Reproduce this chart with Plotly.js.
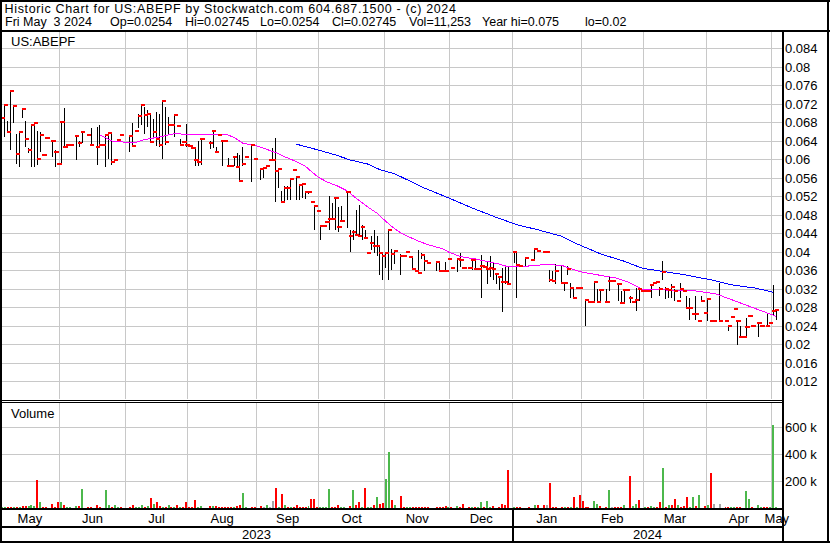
<!DOCTYPE html>
<html>
<head>
<meta charset="utf-8">
<script src="https://cdn.plot.ly/plotly-3.0.1.min.js"></script>
<style>
html,body{margin:0;padding:0;background:#fff;}
#chart{width:830px;height:543px;}
#chart .scatterlayer path.js-line{shape-rendering:crispEdges;}
#chart .scatterlayer path.point{shape-rendering:crispEdges;}
#chart .barlayer path{shape-rendering:crispEdges;}
#chart .shapelayer path{shape-rendering:crispEdges;}
#chart .annotation[data-index="0"] text{letter-spacing:0.65px;}
</style>
</head>
<body>
<div id="chart"></div>
<script>
// ---------- categories ----------
const firstDay = '2023-05-04';
const lastDay = '2024-05-03';
const monthNames = ['Jan','Feb','Mar','Apr','May','Jun','Jul','Aug','Sep','Oct','Nov','Dec'];

// ---------- price data (trading-day index, high, low, close) ----------
const priceDay = [
0,1,2,3,4,5,6,7,8,9,
10,11,12,13,14,15,17,18,19,20,
21,22,23,25,26,27,29,30,32,33,
34,35,36,37,38,39,40,43,44,45,
46,47,48,49,50,51,52,53,54,55,
56,57,58,59,60,61,62,63,64,65,
66,67,70,71,72,73,74,75,76,77,
78,79,80,81,82,84,85,87,88,89,
90,91,92,93,94,95,96,97,98,99,
100,101,102,103,104,105,106,107,108,109,
110,111,112,113,114,116,117,118,119,120,
121,122,123,124,125,126,127,128,129,130,
131,132,134,135,136,137,138,139,140,141,
142,143,146,147,148,149,150,151,153,154,
155,157,158,159,160,161,162,163,164,165,
166,167,168,169,170,172,173,174,176,178,
179,180,182,183,184,185,186,188,189,190,
191,192,193,194,196,197,198,199,200,201,
203,204,205,207,208,209,210,211,212,213,
214,215,216,217,218,219,220,221,222,223,
224,225,226,227,228,229,230,231,232,233,
234,235,236,237,238,239,241,243,244,245,
246,247,248,249,250,251,252,254,255,257,
258,259,260];
const priceHigh = [
.0750,.0719,.0683,.0750,.0716,.0656,.0660,.0710,.0684,.0624,
.0675,.0681,.0662,.0660,.0610,.0647,.0641,.0620,.0591,.0681,
.0712,.0632,.0632,.0650,.0640,.0660,.0653,.0668,.0670,.0674,
.0631,.0653,.0657,.0656,.0599,.0643,.0653,.0653,.0680,.0662,
.0699,.0720,.0714,.0707,.0699,.0688,.0703,.0699,.0727,.0714,
.0692,.0675,.0697,.0672,.0645,.0638,.0676,.0630,.0624,.0624,
.0639,.0645,.0639,.0662,.0628,.0653,.0643,.0641,.0603,.0585,
.0607,.0615,.0610,.0628,.0606,.0634,.0602,.0581,.0583,.0585,
.0599,.0624,.0646,.0580,.0532,.0542,.0542,.0560,.0578,.0563,
.0545,.0549,.0532,.0532,.0509,.0500,.0489,.0457,.0457,.0465,
.0521,.0507,.0518,.0498,.0500,.0531,.0448,.0448,.0491,.0502,
.0458,.0448,.0398,.0434,.0448,.0434,.0416,.0398,.0398,.0448,
.0407,.0405,.0396,.0392,.0399,.0390,.0387,.0360,.0405,.0397,
.0394,.0377,.0380,.0380,.0360,.0379,.0385,.0366,.0387,.0398,
.0366,.0365,.0387,.0387,.0364,.0394,.0368,.0380,.0391,.0377,
.0355,.0347,.0365,.0369,.0369,.0401,.0398,.0370,.0389,.0383,
.0408,.0403,.0400,.0400,.0361,.0358,.0373,.0372,.0334,.0369,
.0333,.0320,.0323,.0323,.0297,.0291,.0291,.0338,.0320,.0320,
.0320,.0345,.0338,.0333,.0315,.0320,.0318,.0304,.0292,.0322,
.0322,.0316,.0316,.0316,.0331,.0334,.0336,.0325,.0381,.0325,
.0322,.0331,.0320,.0295,.0333,.0316,.0304,.0300,.0267,.0304,
.0251,.0304,.0269,.0300,.0251,.0251,.0333,.0250,.0240,.0260,
.0276,.0250,.0240,.0216,.0257,.0262,.0239,.0247,.0241,.0268,
.0247,.0329,.02745];
const priceLow = [
.0589,.0649,.0660,.0620,.0678,.0591,.0584,.0690,.0627,.0613,
.0584,.0584,.0589,.0617,.0610,.0647,.0606,.0584,.0591,.0591,
.0626,.0632,.0632,.0599,.0627,.0635,.0653,.0631,.0588,.0631,
.0631,.0584,.0602,.0588,.0599,.0643,.0653,.0617,.0630,.0662,
.0668,.0675,.0656,.0670,.0638,.0645,.0630,.0627,.0601,.0631,
.0653,.0675,.0649,.0672,.0631,.0638,.0627,.0630,.0624,.0585,
.0585,.0588,.0622,.0625,.0617,.0653,.0585,.0641,.0585,.0585,
.0585,.0582,.0552,.0585,.0606,.0552,.0602,.0555,.0560,.0585,
.0599,.0599,.0509,.0538,.0509,.0509,.0513,.0513,.0578,.0513,
.0513,.0517,.0515,.0525,.0509,.0448,.0489,.0425,.0457,.0465,
.0448,.0472,.0448,.0444,.0468,.0452,.0401,.0426,.0434,.0435,
.0426,.0430,.0398,.0405,.0398,.0391,.0351,.0340,.0365,.0340,
.0361,.0373,.0350,.0392,.0399,.0390,.0361,.0360,.0354,.0384,
.0358,.0377,.0358,.0358,.0360,.0360,.0385,.0366,.0357,.0367,
.0366,.0365,.0361,.0361,.0364,.0301,.0368,.0330,.0347,.0340,
.0330,.0318,.0270,.0331,.0330,.0376,.0301,.0370,.0369,.0383,
.0383,.0403,.0400,.0400,.0335,.0336,.0330,.0330,.0315,.0351,
.0300,.0300,.0323,.0323,.0240,.0291,.0291,.0290,.0290,.0291,
.0290,.0315,.0338,.0293,.0288,.0290,.0318,.0290,.0292,.0272,
.0295,.0316,.0316,.0316,.0301,.0334,.0336,.0304,.0340,.0298,
.0300,.0301,.0293,.0295,.0301,.0316,.0279,.0254,.0267,.0254,
.0251,.0293,.0269,.0250,.0251,.0251,.0250,.0250,.0229,.0260,
.0276,.0200,.0215,.0216,.0214,.0262,.0239,.0216,.0238,.0238,
.0247,.0261,.0254];
const priceClose = [
.0689,.0718,.0660,.0749,.0716,.0612,.0660,.0709,.0645,.0621,
.0675,.0679,.0601,.0654,.0610,.0647,.0641,.0617,.0591,.0681,
.0626,.0632,.0632,.0650,.0636,.0660,.0653,.0631,.0628,.0631,
.0631,.0652,.0657,.0595,.0599,.0643,.0653,.0651,.0630,.0662,
.0694,.0718,.0697,.0698,.0638,.0660,.0645,.0632,.0727,.0638,
.0675,.0675,.0697,.0672,.0632,.0638,.0632,.0630,.0624,.0599,
.0595,.0645,.0636,.0661,.0617,.0653,.0641,.0641,.0587,.0585,
.0606,.0584,.0554,.0591,.0606,.0632,.0602,.0580,.0582,.0585,
.0599,.0599,.0576,.0580,.0509,.0539,.0538,.0558,.0578,.0562,
.0545,.0547,.0530,.0530,.0509,.0500,.0489,.0457,.0457,.0465,
.0472,.0472,.0517,.0455,.0468,.0530,.0435,.0444,.0437,.0435,
.0455,.0431,.0398,.0420,.0412,.0412,.0398,.0391,.0398,.0448,
.0396,.0403,.0392,.0392,.0399,.0390,.0363,.0360,.0354,.0394,
.0381,.0377,.0379,.0360,.0360,.0360,.0385,.0366,.0385,.0383,
.0366,.0365,.0383,.0364,.0364,.0370,.0368,.0364,.0366,.0364,
.0352,.0346,.0336,.0336,.0330,.0400,.0372,.0370,.0387,.0383,
.0407,.0403,.0400,.0400,.0340,.0338,.0358,.0334,.0334,.0364,
.0323,.0301,.0323,.0323,.0297,.0291,.0291,.0336,.0291,.0318,
.0291,.0338,.0338,.0331,.0289,.0318,.0318,.0300,.0292,.0297,
.0320,.0316,.0316,.0316,.0329,.0334,.0336,.0320,.0357,.0320,
.0318,.0325,.0315,.0295,.0320,.0316,.0280,.0280,.0267,.0267,
.0251,.0295,.0269,.0299,.0251,.0251,.0251,.0250,.0239,.0260,
.0276,.0250,.0216,.0216,.0237,.0262,.0239,.0247,.0241,.0241,
.0247,.0273,.02745];

// ---------- moving averages (sampled at trading-day index) ----------
const ma1Day = [33,37,42,45,48,50,54,58,63,66,71,75,78,81,85,89,92,95,98,102,106,109,113,116,119,123,126,129,131,134,139,143,148,150,154,159,163,167,170,174,179,183,188,191,194,197,206,210,212,215,221,231,234,240,245,251,255,259,260];
const ma1Val = [.0653,.0640,.0637,.0637,.0643,.0645,.0650,.0656,.0655,.0653,.0655,.0655,.0648,.0635,.0631,.0622,.0615,.0606,.0598,.0585,.0563,.0552,.0542,.0532,.0516,.0497,.0484,.0466,.0455,.0441,.0426,.0416,.0407,.0400,.0390,.0385,.0380,.0374,.0368,.0368,.0371,.0373,.0371,.0365,.0358,.0354,.0344,.0336,.0329,.0320,.0318,.0317,.0315,.0309,.0297,.0283,.0272,.0263,.0261];
const ma2Day = [99,101,106,112,117,123,127,132,142,150,158,166,173,180,188,193,197,201,209,215,222,229,238,245,253,259];
const ma2Val = [.0633,.0630,.0621,.0610,.0599,.0590,.0578,.0569,.0538,.0517,.0495,.0475,.0459,.0448,.0434,.0418,.0407,.0396,.0380,.0365,.0358,.0351,.0340,.0329,.0322,.0313];

// ---------- volume (trading-day index, thousands of shares, direction u/d/n) ----------
const volDay = [
0,1,2,3,4,5,6,7,8,9,
10,11,12,13,14,15,17,18,19,20,
21,22,23,25,26,27,29,30,32,33,
35,36,37,38,39,40,43,44,45,46,
47,48,49,50,51,52,53,54,55,56,
57,58,59,60,61,62,63,64,65,66,
67,70,71,72,73,74,75,76,77,78,
79,80,81,82,84,85,87,88,89,90,
91,92,93,94,95,96,97,98,99,100,
101,102,103,104,105,106,107,108,109,110,
111,112,113,114,115,117,118,119,120,121,
122,123,124,125,126,127,128,129,130,131,
132,134,135,136,137,138,139,140,141,142,
143,146,147,148,149,150,151,153,154,155,
157,158,159,160,161,162,163,164,165,167,
168,169,170,172,173,174,177,179,180,182,
183,184,185,186,188,189,190,191,192,193,
194,195,196,197,199,200,201,203,204,205,
206,207,208,209,211,212,213,214,216,217,
218,219,220,221,222,223,224,225,226,227,
228,229,230,231,232,233,234,236,237,238,
239,241,243,244,245,246,247,248,250,251,
252,254,255,256,257,258,259,260];
const volK = [
8,5,6,8,8,10,8,12,14,16,
20,13,210,44,5,5,30,8,44,44,
20,6,5,13,13,143,5,5,20,6,
136,20,6,20,6,5,5,20,5,5,
20,6,13,72,31,44,13,5,6,20,
5,6,20,5,5,44,5,5,59,6,
13,13,13,13,5,6,5,5,5,6,
13,26,115,5,5,5,13,5,20,5,
51,151,5,105,20,6,6,5,20,6,
5,5,13,67,67,6,5,5,5,143,
5,5,20,5,5,13,136,20,44,5,
151,5,6,20,82,33,38,220,417,59,
20,90,5,6,5,5,6,8,10,8,
10,6,5,6,13,5,5,13,6,31,
6,6,6,5,44,5,51,5,13,6,
31,26,282,5,6,6,6,20,20,20,
20,190,6,6,6,6,6,6,85,5,
97,51,6,6,51,31,13,6,136,5,
5,6,6,20,243,13,33,59,6,5,
13,6,6,46,302,6,26,20,67,26,
5,13,85,5,85,13,97,13,20,259,
31,33,5,5,5,5,5,5,128,67,
5,20,5,5,6,5,622,11.253];
const volDir = (
'uuddududdu' + 'uududddddu' + 'duuududddd' + 'uuduuddduu' +
'udududdudu' + 'dududdddd u' + 'ududdddddu' + 'dduudddnun' +
'ndudududdd' + 'ddudddu uuu' + 'ddduudu ddu' + 'duudud duud' +
'uddu uddddd' + 'dddddudud d' + 'dudu udu udd' + 'dddudddudd' +
'nddddudu du' + 'ddddu uddun' + 'dddudu udud' + 'uuddudu ddu' +
'ddduudud ud' + 'nnddu uddu u' + 'duudduuu').replace(/ /g,'').split('');

// ---------- tick labels ----------
const priceTicks = [0.012,0.016,0.02,0.024,0.028,0.032,0.036,0.04,0.044,0.048,0.052,0.056,0.06,0.064,0.068,0.072,0.076,0.08,0.084];
const priceTickText = ['0.012','0.016','0.02','0.024','0.028','0.032','0.036','0.04','0.044','0.048','0.052','0.056','0.06','0.064','0.068','0.072','0.076','0.08','0.084'];
const volTicks = [200000,400000,600000];
const volTickText = ['200 k','400 k','600 k'];

// ---------- header texts ----------
const headerLine1 = 'Historic Chart for US:ABEPF by Stockwatch.com 604.687.1500 - (c) 2024';
const headerLine2 = ['Fri May\u00a0\u00a03 2024','Op=0.0254','Hi=0.02745','Lo=0.0254','Cl=0.02745','Vol=11,253','Year hi=0.075','lo=0.02'];

// ---------- build ----------
function weekdays(a,b){
  const out=[]; let d=new Date(a+'T00:00:00Z'); const e=new Date(b+'T00:00:00Z');
  while(d<=e){const w=d.getUTCDay(); if(w!==0&&w!==6) out.push(d.toISOString().slice(0,10)); d=new Date(d.getTime()+86400000);}
  return out;
}
const tradingDays = weekdays(firstDay,lastDay);
const N = tradingDays.length;

// layout geometry (pixels)
const W=830, H=543, PL=0, PR=782, PT=31, PB=509;
const pw = PR-PL, ph = PB-PT;
const px = x => (x-PL)/pw;
const py = y => (PB-y)/ph;
const xRange = [-0.57, N - 0.03];
const letterSp = 0.65;
const header1X = 3 + letterSp*headerLine1.length/2;   // text is centre-anchored, spacing widens both sides
const header2X = [3,108,183,258,330,407,480,583];

// month boundaries
const monthBounds=[], monthStarts=[0];
for(let i=1;i<N;i++){ if(tradingDays[i].slice(0,7)!==tradingDays[i-1].slice(0,7)){monthBounds.push(i-0.5); monthStarts.push(i);} }
const segEdges=[xRange[0],...monthBounds,xRange[1]];
const monthMid=[], monthLab=[];
for(let k=0;k<monthStarts.length;k++){ monthMid.push((segEdges[k]+segEdges[k+1])/2); monthLab.push(monthNames[+tradingDays[monthStarts[k]].slice(5,7)-1]); }
let yearBound=null;
for(let i=1;i<N;i++){ if(tradingDays[i].slice(0,4)!==tradingDays[i-1].slice(0,4)) yearBound=i-0.5; }

// high-low segments
const hlX=[], hlY=[];
priceDay.forEach((d,k)=>{ if(priceHigh[k]>priceLow[k]){ hlX.push(d,d,null); hlY.push(priceLow[k],priceHigh[k],null);} });

const dirColor={u:'#4cb84c',d:'#ff0000',n:'#a6a6a6'};
const grid='#c8c8c8';
const font={family:'Arial, "Liberation Sans", sans-serif', size:13, color:'#000'};
const hfont={family:'Arial, "Liberation Sans", sans-serif', size:12.5, color:'#000'};

const traces=[
  {type:'scatter',mode:'lines',x:hlX,y:hlY,xaxis:'x',yaxis:'y',line:{color:'#000',width:1},hoverinfo:'skip'},
  {type:'scatter',mode:'lines',x:ma1Day,y:ma1Val,xaxis:'x',yaxis:'y',line:{color:'#ff00ff',width:1},hoverinfo:'skip'},
  {type:'scatter',mode:'lines',x:ma2Day,y:ma2Val,xaxis:'x',yaxis:'y',line:{color:'#0000ff',width:1},hoverinfo:'skip'},
  {type:'scatter',mode:'markers',x:priceDay.map(d=>d+0.4),y:priceClose,xaxis:'x',yaxis:'y',
   marker:{symbol:'line-ew',size:3,color:'#ff0000',line:{color:'#ff0000',width:2}},hoverinfo:'skip'},
  {type:'bar',x:volDay,y:volK.map(v=>v*1000),xaxis:'x2',yaxis:'y2',width:0.67,
   marker:{color:volDir.map(c=>dirColor[c]),line:{width:0}},hoverinfo:'skip'}
];

function hline(y,x0,x1,w){return {type:'line',xref:'paper',yref:'paper',x0:px(x0),x1:px(x1),y0:py(y),y1:py(y),line:{color:'#000',width:w}};}
function vline(x,y0,y1,w){return {type:'line',xref:'paper',yref:'paper',x0:px(x),x1:px(x),y0:py(y0),y1:py(y1),line:{color:'#000',width:w}};}

const shapes=[
  hline(1,0,W,2), hline(541.5,0,W,2), vline(1,0,H,2), vline(828,0,H,2),
  hline(31,0,W,2),
  vline(782.5,31,541.5,2),
  hline(400.5,0,782,1), hline(402.5,0,782,1),
  hline(509,0,782,2), hline(527,0,782,2),
  {type:'line',xref:'x2',yref:'paper',x0:yearBound,x1:yearBound,y0:py(509),y1:py(541.5),line:{color:'#000',width:2}}
];

const ann=(t,x,y,f)=>({text:t,xref:'paper',yref:'paper',x:px(x),y:py(y),xanchor:'left',yanchor:'middle',showarrow:false,font:f||font});
const annotations=[ ann(headerLine1,header1X,9,hfont) ];
headerLine2.forEach((t,k)=>annotations.push(ann(t,header2X[k],22.5,hfont)));
annotations.push(ann('US:ABEPF',9,42));
annotations.push(ann('Volume',9,413));
annotations.push({text:'2023',xref:'x2',yref:'paper',x:(xRange[0]+yearBound)/2,y:py(534),xanchor:'center',yanchor:'middle',showarrow:false,font:font});
annotations.push({text:'2024',xref:'x2',yref:'paper',x:(yearBound+xRange[1])/2,y:py(534),xanchor:'center',yanchor:'middle',showarrow:false,font:font});

const layout={
  width:W,height:H,margin:{l:PL,r:W-PR,t:PT,b:H-PB,pad:0},
  paper_bgcolor:'#fff',plot_bgcolor:'#fff',showlegend:false,font:font,
  xaxis:{domain:[0,1],anchor:'y',range:xRange,tickmode:'array',tickvals:monthBounds,showticklabels:false,
    showgrid:true,gridcolor:grid,gridwidth:1,zeroline:false,showline:false,ticks:'',fixedrange:true},
  xaxis2:{domain:[0,1],anchor:'y2',range:xRange,tickmode:'array',tickvals:monthMid,ticktext:monthLab,
    showgrid:false,zeroline:false,showline:false,ticks:'',tickfont:font,fixedrange:true,
    minor:{tickmode:'array',tickvals:monthBounds,showgrid:true,gridcolor:grid,gridwidth:1,ticks:''}},
  yaxis:{domain:[py(399),1],anchor:'x',side:'right',range:[0.008216,0.087784],tickmode:'array',tickvals:priceTicks,ticktext:priceTickText,
    showgrid:true,gridcolor:grid,gridwidth:1,zeroline:false,showline:false,ticks:'',tickfont:font,fixedrange:true,ticklabelstandoff:2},
  yaxis2:{domain:[0,py(403)],anchor:'x2',side:'right',range:[-7500,786500],tickmode:'array',tickvals:volTicks,ticktext:volTickText,
    showgrid:true,gridcolor:grid,gridwidth:1,zeroline:false,showline:false,ticks:'',tickfont:font,fixedrange:true,ticklabelstandoff:2},
  bargap:0,
  shapes:shapes,annotations:annotations
};

Plotly.newPlot('chart',traces,layout,{displayModeBar:false,staticPlot:true});
</script>
</body>
</html>
